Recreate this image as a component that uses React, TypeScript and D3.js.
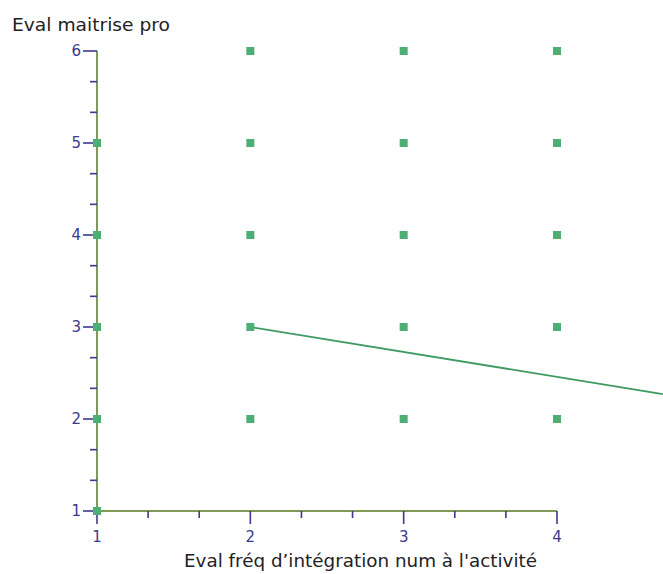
import React from "react";
import * as d3 from "d3";

const pointsX = [1, 1, 1, 1, 1, 2, 2, 2, 2, 2, 3, 3, 3, 3, 3, 4, 4, 4, 4, 4];
const pointsY = [1, 2, 3, 4, 5, 2, 3, 4, 5, 6, 2, 3, 4, 5, 6, 2, 3, 4, 5, 6];
const lineX = [2, 4.69];
const lineY = [3.0, 2.27];
const xTicks = [1, 2, 3, 4];
const yTicks = [1, 2, 3, 4, 5, 6];
const yTitle = "Eval maitrise pro";
const xTitle = "Eval fréq d’intégration num à l'activité";

export default function App() {
  const W = 663, H = 574;
  const x = d3.scaleLinear().domain([1, 4]).range([97, 557]);
  const y = d3.scaleLinear().domain([1, 6]).range([511, 51]);
  const axisColor = "#7f9a55";
  const tickColor = "#3a3a8c";
  const ptColor = "#4caf74";
  const font = "Tahoma, 'DejaVu Sans', sans-serif";
  const xMinor: number[] = [];
  for (let i = 1; i < 4; i++) xMinor.push(i + 1 / 3, i + 2 / 3);
  const yMinor: number[] = [];
  for (let i = 1; i < 6; i++) yMinor.push(i + 1 / 3, i + 2 / 3);
  const line = d3.line<number>().x((d) => x(d)).y((_, i) => y(lineY[i]));
  return (
    <svg width={W} height={H} style={{ position: "absolute", left: 0, top: 0, background: "#fff" }}>
      <text x={12} y={31} fontFamily={font} fontSize={17} textLength={158} lengthAdjust="spacingAndGlyphs" fill="#222">{yTitle}</text>
      <line x1={x(1)} x2={x(1)} y1={y(6)} y2={y(1)} stroke={axisColor} strokeWidth={2} />
      <line x1={x(1)} x2={x(4)} y1={y(1)} y2={y(1)} stroke={axisColor} strokeWidth={2} />
      {yTicks.map((t) => (
        <g key={"y" + t}>
          <line x1={x(1) - 14} x2={x(1)} y1={y(t)} y2={y(t)} stroke={tickColor} strokeWidth={1.6} />
          <text x={x(1) - 16} y={y(t)} dy="0.36em" textAnchor="end" fontFamily={font} fontSize={15} fill={tickColor}>{t}</text>
        </g>
      ))}
      {yMinor.map((t, i) => (
        <line key={"ym" + i} x1={x(1) - 7} x2={x(1)} y1={y(t)} y2={y(t)} stroke={tickColor} strokeWidth={1.6} />
      ))}
      {xTicks.map((t) => (
        <g key={"x" + t}>
          <line x1={x(t)} x2={x(t)} y1={y(1)} y2={y(1) + 13} stroke={tickColor} strokeWidth={1.6} />
          <text x={x(t)} y={y(1) + 31} textAnchor="middle" fontFamily={font} fontSize={15} fill={tickColor}>{t}</text>
        </g>
      ))}
      {xMinor.map((t, i) => (
        <line key={"xm" + i} x1={x(t)} x2={x(t)} y1={y(1)} y2={y(1) + 7} stroke={tickColor} strokeWidth={1.6} />
      ))}
      <path d={line(lineX) || ""} fill="none" stroke="#3e9a63" strokeWidth={1.8} />
      {pointsX.map((px, i) => (
        <rect key={"p" + i} x={x(px) - 4} y={y(pointsY[i]) - 4} width={8} height={8} fill={ptColor} />
      ))}
      <text x={360.5} y={567} textAnchor="middle" fontFamily={font} fontSize={17} textLength={353} lengthAdjust="spacingAndGlyphs" fill="#222">{xTitle}</text>
    </svg>
  );
}
